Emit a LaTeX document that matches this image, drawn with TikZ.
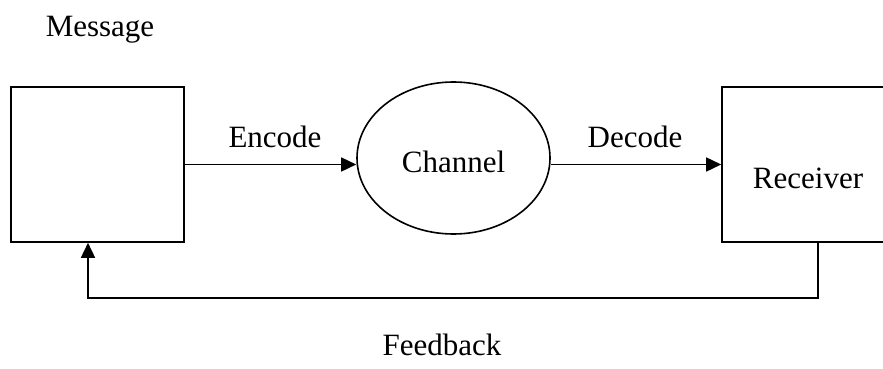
\documentclass[tikz,border=0pt]{standalone}
\usepackage{fontspec}
\setmainfont{Liberation Serif}
\usetikzlibrary{arrows.meta,shapes.geometric}
\begin{document}
\begin{tikzpicture}[x=1pt,y=-1pt,line width=1.6pt,
  lbl/.style={font=\fontsize{31}{36}\selectfont,anchor=base,inner sep=0},
  blk/.style={draw,rectangle,minimum width=173pt,minimum height=155pt,inner sep=0},
  chan/.style={draw,ellipse,minimum width=193pt,minimum height=152pt,inner sep=0,
    font=\fontsize{31}{36}\selectfont},
  arr/.style={-{Triangle[length=15pt,width=14pt]}}]
\useasboundingbox (0,0) rectangle (883,369);
\clip (0,0) rectangle (883,369);

% blocks
\node[blk] (sender) at (97.5,164.5) {};
\node[blk] (recv) at (808.5,164.5) {};
\node[chan] (ch) at (453.5,158) {};

% labels
\node[lbl] (msg) at (100,37) {Message};
\node[lbl] (chtxt) at (453.5,172) {Channel};
\node[lbl] (rtxt) at (808,188) {Receiver};
\node[lbl] (enc) at (275,147) {Encode};
\node[lbl] (dec) at (635,147) {Decode};
\node[lbl] (fbtxt) at (442,355) {Feedback};

% connectors
\draw[arr] (sender.east) -- (ch.west |- sender.east);
\draw[arr] (ch.east |- recv.west) -- (recv.west);
\coordinate (fb) at (450,298);
\draw[arr] ([xshift=9.5pt]recv.south) |- (fb) -| ([xshift=-9.5pt]sender.south);
\end{tikzpicture}
\end{document}
